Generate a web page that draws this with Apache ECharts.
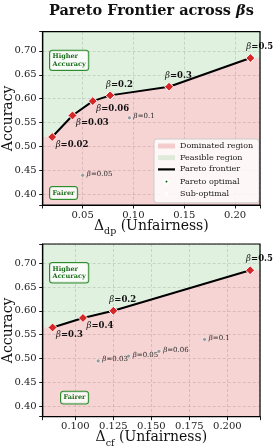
<!DOCTYPE html>
<html><head><meta charset="utf-8">
<script src="https://cdn.jsdelivr.net/npm/echarts@6/dist/echarts.min.js"></script>
<style>html,body{margin:0;padding:0;background:#fff}#c{width:275px;height:448px}</style>
</head><body><div id="c"></div>
<script>
// ---------- DATA ----------
// Panel 1: Δdp (Unfairness) vs Accuracy
const dpBetas    = ['0.02', '0.03', '0.06', '0.2', '0.3', '0.5'];
const dpX        = [0.020, 0.040, 0.060, 0.077, 0.135, 0.215];
const dpY        = [0.520, 0.565, 0.595, 0.607, 0.625, 0.685];
const dpSubBetas = ['0.1', '0.05'];
const dpSubX     = [0.096, 0.050];
const dpSubY     = [0.560, 0.440];
// Panel 2: Δcf (Unfairness) vs Accuracy
const cfBetas    = ['0.3', '0.4', '0.2', '0.5'];
const cfX        = [0.085, 0.105, 0.125, 0.215];
const cfY        = [0.565, 0.585, 0.600, 0.685];
const cfSubBetas = ['0.03', '0.05', '0.06', '0.1'];
const cfSubX     = [0.115, 0.135, 0.155, 0.185];
const cfSubY     = [0.495, 0.505, 0.515, 0.540];
// Axis ranges and tick steps
const dpXRange = [0.0107, 0.2245];
const cfXRange = [0.0785, 0.2215];
const yRange   = [0.378, 0.740];
const dpXStep = 0.05, cfXStep = 0.025, yStep = 0.05;
const legendNames = ['Dominated region', 'Feasible region', 'Pareto frontier', 'Pareto optimal', 'Sub-optimal'];

// ---------- STYLE ----------
const dpLabelPlace = ['below', 'below', 'below', 'above', 'above', 'above'];
const cfLabelPlace = ['below', 'below', 'above', 'above'];
const SERIF = '"DejaVu Serif", "Liberation Serif", serif';
const RED_FILL = 'rgba(214,39,40,0.2)';
const GREEN_FILL = 'rgba(44,160,44,0.15)';
const GRIDS = [
  {left: 42.7, top: 31.7, width: 217.3, height: 173.3},
  {left: 42.7, top: 244, width: 217.3, height: 172.7}
];

const chart = echarts.init(document.getElementById('c'), null, {renderer: 'canvas'});

function fmt(step, dec) {
  return v => (Math.abs(v / step - Math.round(v / step)) < 1e-6) ? v.toFixed(dec) : '';
}

function makeX(i, range, step, dec, sub) {
  return {
    type: 'value', gridIndex: i, min: range[0], max: range[1],
    minInterval: step, maxInterval: step,
    axisLine: {show: true, onZero: false, lineStyle: {color: '#000', width: 1.2}},
    axisTick: {show: true, length: 3.5, lineStyle: {color: '#000', width: 0.9}},
    axisLabel: {fontFamily: SERIF, fontSize: 10, color: '#222', margin: 5, formatter: fmt(step, dec)},
    splitLine: {show: true, lineStyle: {type: [3, 2], color: 'rgba(150,150,150,0.4)', width: 0.8}},
    name: '{n|Δ}{s|' + sub + '}{n| (Unfairness)}', nameLocation: 'middle', nameGap: 10.5,
    nameMoveOverlap: false,
    nameTextStyle: {
      fontFamily: SERIF, fontSize: 14, color: '#111',
      rich: {
        n: {fontFamily: SERIF, fontSize: 14, color: '#111', lineHeight: 16},
        s: {fontFamily: SERIF, fontSize: 9.5, color: '#111', lineHeight: 21, verticalAlign: 'bottom'}
      }
    }
  };
}
function makeY(i) {
  return {
    type: 'value', gridIndex: i, min: yRange[0], max: yRange[1],
    minInterval: yStep, maxInterval: yStep,
    axisLine: {show: true, onZero: false, lineStyle: {color: '#000', width: 1.2}},
    axisTick: {show: true, length: 3.5, lineStyle: {color: '#000', width: 0.9}},
    axisLabel: {fontFamily: SERIF, fontSize: 10, color: '#222', margin: 6, formatter: fmt(yStep, 2)},
    splitLine: {show: true, lineStyle: {type: [3, 2], color: 'rgba(150,150,150,0.4)', width: 0.8}},
    name: 'Accuracy', nameLocation: 'middle', nameGap: 27.5, nameMoveOverlap: false,
    nameTextStyle: {fontFamily: SERIF, fontSize: 14, color: '#111'}
  };
}

function panelSeries(i, betas, xs, ys, subBetas, subXs, subYs, places, xRange) {
  const pts = xs.map((x, k) => [x, ys[k]]);
  const frontierExt = [[xRange[0], ys[0]]].concat(pts, [[xRange[1], ys[ys.length - 1]]]);
  const base = {xAxisIndex: i, yAxisIndex: i, animation: false};
  const S = 9;
  return [
    Object.assign({
      type: 'line', name: legendNames[0], data: frontierExt, symbol: 'none', silent: true, z: 1,
      color: RED_FILL, lineStyle: {width: 0, opacity: 0},
      areaStyle: {origin: 'start', color: RED_FILL, opacity: 1}
    }, base),
    Object.assign({
      type: 'line', name: legendNames[1], data: frontierExt, symbol: 'none', silent: true, z: 1,
      color: GREEN_FILL, lineStyle: {width: 0, opacity: 0},
      areaStyle: {origin: 'end', color: GREEN_FILL, opacity: 1}
    }, base),
    Object.assign({
      type: 'line', name: legendNames[2], data: pts, symbol: 'none', silent: true, z: 3,
      color: '#000', lineStyle: {color: '#000', width: 2}
    }, base),
    Object.assign({
      type: 'scatter', name: legendNames[3], symbol: 'diamond', symbolSize: S, z: 5,
      itemStyle: {color: '#d62728', borderColor: '#fff', borderWidth: 1, opacity: 1},
      data: pts.map((p, k) => ({
        value: p,
        label: {
          show: true,
          position: places[k] === 'below' ? [S / 2 + 4, S / 2 + 8] : [S / 2 - 3.5, S / 2 - 10.5],
          align: 'left', verticalAlign: 'middle',
          formatter: '{g|β}{b|=' + betas[k] + '}',
          rich: {
            g: {fontFamily: SERIF, fontStyle: 'italic', fontSize: 8.5, color: '#111'},
            b: {fontFamily: SERIF, fontWeight: 'bold', fontSize: 8.5, color: '#111'}
          }
        }
      }))
    }, base),
    Object.assign({
      type: 'scatter', name: legendNames[4], symbol: 'circle', symbolSize: 4, z: 4,
      itemStyle: {color: '#999', borderColor: '#fff', borderWidth: 0.6, opacity: 1},
      data: subXs.map((x, k) => ({
        value: [x, subYs[k]],
        label: {
          show: true, position: [2 + 4.5, 2 - 1], align: 'left', verticalAlign: 'middle',
          formatter: '{g|β}{r|=' + subBetas[k] + '}',
          rich: {
            g: {fontFamily: SERIF, fontStyle: 'italic', fontSize: 7, color: '#2a2a2a'},
            r: {fontFamily: SERIF, fontSize: 7, color: '#2a2a2a'}
          }
        }
      }))
    }, base)
  ];
}

function noteBox(x, y, text) {
  return {
    type: 'text', x: x, y: y, z: 50,
    style: {
      text: text, font: 'bold 6.5px ' + SERIF, fill: '#1b6e1b', lineHeight: 7.5,
      backgroundColor: 'rgba(255,255,255,0.8)', borderColor: '#2e8b2e', borderWidth: 1,
      borderRadius: 2.5, padding: [2.2, 2.6, 2.2, 2.6]
    }
  };
}
function frame(g) {
  return {type: 'rect', z: 60, shape: {x: g.left, y: g.top, width: g.width, height: g.height},
    style: {fill: 'none', stroke: '#000', lineWidth: 1.2}};
}

const option = {
  animation: false,
  backgroundColor: '#fff',
  grid: GRIDS.map(g => Object.assign({show: false, containLabel: false, outerBoundsMode: 'none'}, g)),
  xAxis: [makeX(0, dpXRange, dpXStep, 2, 'dp'), makeX(1, cfXRange, cfXStep, 3, 'cf')],
  yAxis: [makeY(0), makeY(1)],
  legend: {
    orient: 'vertical', left: 154, top: 139, padding: [3, 6, 4, 3],
    itemWidth: 17, itemHeight: 7, itemGap: 3.7, itemTextGap: 5,
    backgroundColor: 'rgba(255,255,255,0.8)', borderColor: '#cccccc', borderWidth: 1, borderRadius: 3,
    textStyle: {fontFamily: SERIF, fontSize: 8, color: '#222'},
    selectedMode: false, z: 40,
    data: [
      {name: legendNames[0], icon: 'path://M0,0M17,7M0,1L17,1L17,6L0,6Z', itemStyle: {color: RED_FILL}},
      {name: legendNames[1], icon: 'path://M0,0M17,7M0,1L17,1L17,6L0,6Z', itemStyle: {color: GREEN_FILL}},
      {name: legendNames[2], icon: 'path://M0,0M17,7M0,2.4L17,2.4L17,4.6L0,4.6Z', itemStyle: {color: '#000'}},
      {name: legendNames[3], icon: 'path://M0,0M17,7M8.5,1L11,3.5L8.5,6L6,3.5Z', itemStyle: {color: '#006400'}},
      {name: legendNames[4], icon: 'path://M0,0M17,7M7.3,3.5A1.2,1.2 0 1 1 9.7,3.5A1.2,1.2 0 1 1 7.3,3.5Z', itemStyle: {color: '#aaaaaa'}}
    ]
  },
  graphic: [
    {type: 'text', x: 151.4, y: 11, z: 50, style: {
      text: '{t|Pareto Frontier across }{g|β}{t|s}', textAlign: 'center', textVerticalAlign: 'middle',
      rich: {
        t: {fontFamily: SERIF, fontWeight: 'bold', fontSize: 14.5, fill: '#111'},
        g: {fontFamily: SERIF, fontStyle: 'italic', fontWeight: 'bold', fontSize: 14.5, fill: '#111'}
      }
    }},
    noteBox(50, 50.7, 'Higher\nAccuracy'),
    noteBox(50, 187, 'Fairer'),
    noteBox(50, 263, 'Higher\nAccuracy'),
    noteBox(61, 391.7, 'Fairer'),
    frame(GRIDS[0]), frame(GRIDS[1])
  ],
  series: [].concat(
    panelSeries(0, dpBetas, dpX, dpY, dpSubBetas, dpSubX, dpSubY, dpLabelPlace, dpXRange),
    panelSeries(1, cfBetas, cfX, cfY, cfSubBetas, cfSubX, cfSubY, cfLabelPlace, cfXRange)
  )
};
chart.setOption(option);
</script>
</body></html>
